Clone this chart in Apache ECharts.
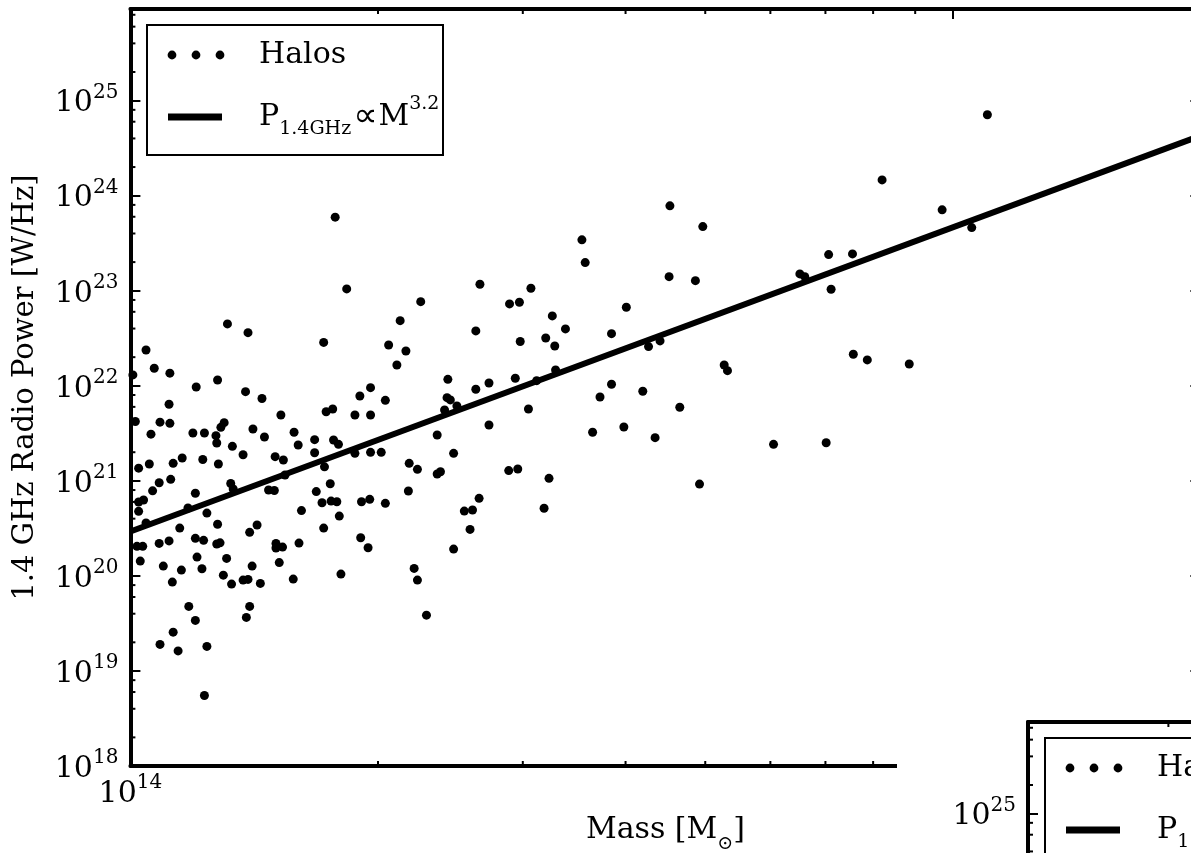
<!DOCTYPE html>
<html><head><meta charset="utf-8">
<script src="https://cdn.jsdelivr.net/npm/echarts@6/dist/echarts.min.js"></script>
<style>html,body{margin:0;padding:0;background:#fff}#c{width:1191px;height:853px}</style>
</head><body><div id="c"></div>
<script>
// log10 of halo mass [M_sun] and log10 of 1.4 GHz radio power [W/Hz]
const haloLogMass = [
14.118,14.143,14.235,14.019,14.029,14.048,14.003,14.106,14.080,14.140,
14.160,14.047,14.238,14.183,14.006,14.036,14.048,14.114,14.110,14.149,
14.025,14.076,14.090,14.104,14.105,14.163,14.199,14.204,14.224,14.124,
14.137,14.176,14.186,14.224,14.010,14.023,14.052,14.063,14.088,14.107,
14.236,14.049,14.035,14.027,14.079,14.122,14.125,14.168,14.175,14.226,
14.233,14.243,14.016,14.010,14.010,14.070,14.093,14.208,14.244,14.188,
14.019,14.060,14.106,14.145,14.154,14.235,14.035,14.047,14.008,14.015,
14.079,14.089,14.105,14.109,14.177,14.177,14.185,14.205,14.012,14.040,
14.062,14.081,14.087,14.117,14.113,14.123,14.137,14.143,14.148,14.158,
14.181,14.198,14.051,14.256,14.071,14.079,14.052,14.036,14.058,14.093,
14.145,14.141,14.090,
14.249,14.263,14.353,14.425,14.461,14.473,14.328,14.420,14.314,14.335,
14.324,14.474,14.386,14.436,14.420,14.468,14.292,14.279,14.310,14.385,
14.389,14.382,14.397,14.246,14.273,14.292,14.436,14.373,14.247,14.253,
14.273,14.292,14.305,14.393,14.339,14.349,14.373,14.377,14.460,14.471,
14.338,14.251,14.281,14.291,14.310,14.424,14.406,14.416,14.254,14.413,
14.280,14.289,14.393,14.345,14.349,14.360,
14.656,14.696,14.549,14.553,14.655,14.687,14.487,14.603,14.513,14.529,
14.505,14.516,14.585,14.630,14.644,14.722,14.726,14.517,14.494,14.585,
14.571,14.623,14.484,14.668,14.562,14.600,14.638,14.509,14.503,14.692,
15.042,14.914,14.987,15.023,14.849,14.878,14.814,14.820,14.852,14.879,
14.896,14.947,14.782,14.846
];
const haloLogPower = [
22.651,22.559,22.456,22.377,22.184,22.133,22.114,22.061,21.987,21.938,
21.866,21.806,21.727,21.693,21.624,21.617,21.605,21.612,21.563,21.545,
21.491,21.503,21.503,21.475,21.398,21.461,21.511,21.377,21.433,21.363,
21.274,21.254,21.219,21.296,21.133,21.177,21.184,21.240,21.224,21.177,
21.147,21.016,20.980,20.895,20.869,20.972,20.914,20.903,20.898,20.887,
20.769,20.969,20.798,20.777,20.679,20.714,20.661,20.687,20.787,21.061,
20.556,20.503,20.543,20.458,20.535,20.503,20.342,20.368,20.311,20.311,
20.395,20.374,20.335,20.348,20.342,20.293,20.303,20.345,20.156,20.103,
20.061,20.198,20.075,20.184,20.008,19.914,19.956,19.963,20.103,19.921,
20.140,19.966,19.935,20.019,19.679,19.532,19.408,19.279,19.211,19.258,
19.679,19.563,18.742,
23.774,23.019,22.885,23.068,22.861,22.879,22.685,22.577,22.429,22.366,
22.219,22.466,22.068,22.029,21.963,22.079,21.980,21.893,21.847,21.875,
21.851,21.745,21.787,21.756,21.693,21.693,21.587,21.482,21.429,21.384,
21.289,21.300,21.300,21.289,21.184,21.121,21.072,21.096,21.108,21.124,
20.893,20.780,20.780,20.805,20.763,20.816,20.682,20.693,20.629,20.489,
20.401,20.296,20.282,20.079,19.956,19.587,
23.893,23.675,23.535,23.296,23.148,23.106,23.026,22.826,22.735,22.598,
22.503,22.419,22.548,22.412,22.472,22.219,22.159,22.166,22.054,22.016,
21.882,21.942,21.756,21.774,21.511,21.566,21.454,21.026,20.711,20.966,
24.851,24.166,23.851,23.664,23.380,23.387,23.177,23.148,23.016,22.332,
22.272,22.229,21.384,21.401
];
// fitted relation P ∝ M^3.2, end points
const fitMass = [1e14, 2e15];
const fitPower = [2.93e20, 4.27e24];
// axis ranges
const xRange = [1e14, 2e15];
const yRange = [1e18, 9.2e25];
const insetXRange = [1.35e14, 2.7e15];
// minor tick positions
const xMinorTicks = [2e14, 3e14, 4e14, 5e14, 6e14, 7e14, 8e14, 9e14];
const yMinorMultipliers = [2, 4, 6, 8];
const yDecades = [18, 19, 20, 21, 22, 23, 24, 25];
// texts
const seriesNames = ['Halos', 'P1.4GHz ∝ M^3.2'];
const xTitle = ['Mass [M', '⊙', ']'];
const yTitle = '1.4 GHz Radio Power [W/Hz]';

const FONT = 'DejaVu Serif';
const yMinorTicks = [];
yDecades.forEach(d => yMinorMultipliers.forEach(m => { const v = m * Math.pow(10, d); if (v < yRange[1]) yMinorTicks.push(v); }));

function powLabel(v) {
  const e = Math.log10(v), r = Math.round(e);
  if (Math.abs(e - r) > 1e-6) return '';
  return '{b|10}{s|' + r + '}';
}
const labelRich = {
  b: { fontFamily: FONT, fontSize: 30, lineHeight: 30, verticalAlign: 'bottom', color: '#000' },
  s: { fontFamily: FONT, fontSize: 20, lineHeight: 36, verticalAlign: 'top', color: '#000' }
};
const lineSt = { color: '#000', width: 4 };
const tickSt = { show: true, inside: true, length: 10, lineStyle: { color: '#000', width: 2 } };

function baseAxis(extra) {
  return Object.assign({
    type: 'log', logBase: 10,
    axisLine: { show: true, lineStyle: lineSt },
    axisTick: tickSt,
    splitLine: { show: false },
    minorTick: { show: false },
    axisLabel: { show: false }
  }, extra);
}

function tickData(xs, ys, xr, yr, sides) {
  const out = [];
  xs.forEach(v => {
    if (v <= xr[0] || v >= xr[1]) return;
    if (sides.bottom) out.push([v, yr[0], 0]);
    if (sides.top) out.push([v, yr[1], 1]);
  });
  ys.forEach(v => {
    if (sides.left) out.push([xr[0], v, 2]);
    if (sides.right) out.push([xr[1], v, 3]);
  });
  return out;
}
function renderTick(params, api) {
  const p = api.coord([api.value(0), api.value(1)]);
  const d = api.value(2), L = 5;
  let x2 = p[0], y2 = p[1];
  if (d === 0) y2 -= L; else if (d === 1) y2 += L; else if (d === 2) x2 += L; else x2 -= L;
  return { type: 'line', shape: { x1: p[0], y1: p[1], x2: x2, y2: y2 }, style: { stroke: '#000', lineWidth: 2 } };
}

const legRich = {
  b: { fontFamily: FONT, fontSize: 30, lineHeight: 44, color: '#000' },
  p: { fontFamily: 'DejaVu Sans', fontSize: 34, color: '#000', padding: [0, 1, 0, 2] },
  sub: { fontFamily: FONT, fontSize: 19, verticalAlign: 'bottom', color: '#000' },
  sup: { fontFamily: FONT, fontSize: 19, verticalAlign: 'top', color: '#000' }
};
function legendGroup(x, y, z) {
  return {
    type: 'group', x: x, y: y, z: z,
    children: [
      { type: 'rect', z: z, shape: { x: 0, y: 0, width: 296, height: 130 }, style: { fill: '#fff', stroke: '#000', lineWidth: 2 } },
      { type: 'circle', z: z, shape: { cx: 25, cy: 30, r: 4.4 }, style: { fill: '#000' } },
      { type: 'circle', z: z, shape: { cx: 49, cy: 30, r: 4.4 }, style: { fill: '#000' } },
      { type: 'circle', z: z, shape: { cx: 73, cy: 30, r: 4.4 }, style: { fill: '#000' } },
      { type: 'rect', z: z, shape: { x: 21, y: 88.5, width: 54, height: 7 }, style: { fill: '#000' } },
      { type: 'text', z: z, x: 112, y: 30, style: { text: '{b|' + seriesNames[0] + '}', rich: legRich, align: 'left', verticalAlign: 'middle' } },
      { type: 'text', z: z, x: 112, y: 92, style: { text: '{b|P}{sub|1.4GHz}{p|∝}{b|M}{sup|3.2}', rich: legRich, align: 'left', verticalAlign: 'middle' } }
    ]
  };
}

const chart = echarts.init(document.getElementById('c'), null, { renderer: 'canvas' });
chart.setOption({
  animation: false,
  backgroundColor: '#fff',
  grid: [
    { left: 130.4, top: 9, width: 1070, height: 757, containLabel: false, outerBoundsMode: 'none' },
    { left: 1028, top: 722, width: 1070, height: 757, containLabel: false, outerBoundsMode: 'none' }
  ],
  xAxis: [
    baseAxis({ gridIndex: 0, position: 'bottom', min: xRange[0], max: xRange[1],
      axisLabel: { show: true, formatter: powLabel, rich: labelRich, margin: 7, interval: 0 },
      name: '{b|' + xTitle[0] + '}{s|' + xTitle[1] + '}{b|' + xTitle[2] + '}', nameLocation: 'middle', nameGap: 41,
      nameTextStyle: { rich: {
        b: { fontFamily: FONT, fontSize: 30, lineHeight: 47, color: '#000' },
        s: { fontFamily: FONT, fontSize: 19, verticalAlign: 'bottom', color: '#000' } } } }),
    baseAxis({ gridIndex: 0, position: 'top', min: xRange[0], max: xRange[1] }),
    baseAxis({ gridIndex: 1, position: 'top', min: insetXRange[0], max: insetXRange[1], z: 60, axisTick: { show: false } })
  ],
  yAxis: [
    baseAxis({ gridIndex: 0, position: 'left', min: yRange[0], max: yRange[1],
      axisLabel: { show: true, formatter: powLabel, rich: labelRich, margin: 12, interval: 0 },
      name: yTitle, nameLocation: 'middle', nameGap: 84,
      nameTextStyle: { fontFamily: FONT, fontSize: 29, lineHeight: 36, color: '#000' } }),
    baseAxis({ gridIndex: 0, position: 'right', min: yRange[0], max: yRange[1] }),
    baseAxis({ gridIndex: 1, position: 'left', min: yRange[0], max: yRange[1], z: 60,
      axisLabel: { show: true, formatter: powLabel, rich: labelRich, margin: 12, interval: 0 } })
  ],
  series: [
    {
      name: seriesNames[0], type: 'scatter', xAxisIndex: 0, yAxisIndex: 0,
      symbol: 'circle', symbolSize: 9, itemStyle: { color: '#000', opacity: 1 },
      data: haloLogMass.map((m, i) => [Math.pow(10, m), Math.pow(10, haloLogPower[i])]),
      z: 3
    },
    {
      name: seriesNames[1], type: 'line', xAxisIndex: 0, yAxisIndex: 0,
      symbol: 'none', lineStyle: { color: '#000', width: 6 },
      data: fitMass.map((m, i) => [m, fitPower[i]]), z: 4
    },
    {
      type: 'custom', xAxisIndex: 0, yAxisIndex: 0, renderItem: renderTick, z: 5, silent: true,
      encode: { x: 0, y: 1 },
      data: tickData(xMinorTicks, yMinorTicks, xRange, yRange, { bottom: 1, top: 1, left: 1, right: 1 })
    },
    {
      type: 'custom', xAxisIndex: 2, yAxisIndex: 2, renderItem: renderTick, z: 60, silent: true,
      encode: { x: 0, y: 1 },
      data: tickData(xMinorTicks, yMinorTicks, insetXRange, yRange, { top: 1, left: 1 })
    }
  ],
  graphic: [
    { type: 'rect', z: 50, shape: { x: 897, y: 700, width: 300, height: 160 }, style: { fill: '#fff' } },
    legendGroup(147, 25, 20),
    legendGroup(1045, 738, 70)
  ]
});
</script>
</body></html>
